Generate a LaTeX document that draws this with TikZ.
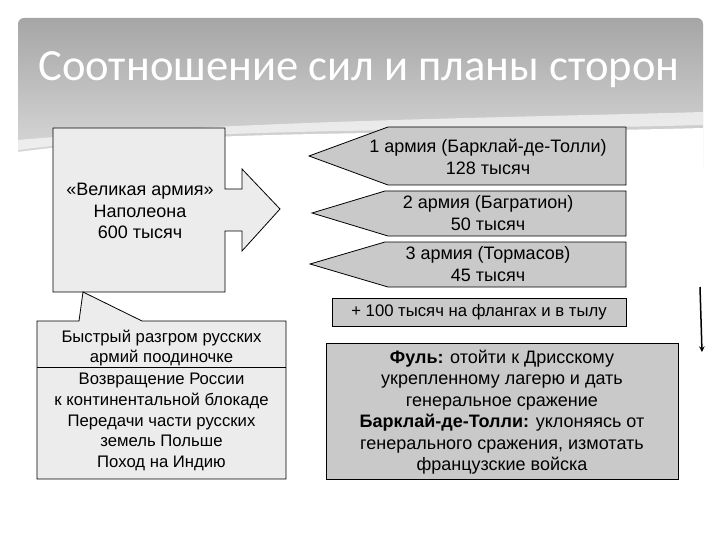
\documentclass[tikz,border=0pt]{standalone}
\usepackage{fontspec}
\setmainfont{Liberation Sans}
\newfontfamily\titlefont{Carlito}
\usepackage{xcolor}
\usepackage{tikz}
\usetikzlibrary{shapes,arrows}

\tikzset{
  lightbox/.style={draw=black, fill=gray!15, line width=0.8pt},
  darkbox/.style={draw=black, fill=gray!42, line width=0.8pt},
  txt/.style={align=center, inner sep=0pt, font=\fontsize{18}{21.5}\selectfont},
  smalltxt/.style={txt, font=\fontsize{16.7}{20.9}\selectfont},
}

\begin{document}
\begin{tikzpicture}[x=1pt,y=-1pt]
\useasboundingbox (0,0) rectangle (720,540);
\fill[white] (0,0) rectangle (720,540);
% banner
\shade[top color=gray!70, bottom color=gray!25, rounded corners=6pt]
  (18,175) -- (18,18) -- (703,18) -- (703,175) -- cycle;
\fill[white] (18,176) -- (18,152) .. controls (200,128) and (450,135) .. (703,128) -- (703,176) -- cycle;
\fill[white, opacity=0.6] (18,176) -- (18,140) .. controls (250,120) and (500,118) .. (703,112) -- (703,125) .. controls (450,132) and (200,126) .. (18,150) -- cycle;
\node[text=white, font=\titlefont\fontsize{44.6}{49}\selectfont] (title) at (359,70) {Соотношение сил и планы сторон};
%
% Napoleon
\draw[lightbox] (53,128) -- (225,128) -- (225,189) -- (242,189) -- (242,169) -- (280,209)
  -- (242,251) -- (242,231) -- (225,231) -- (225,292) -- (53,292) -- cycle;
\node[txt] (napoleon) at (140,211) {«Великая армия»\\Наполеона\\600 тысяч};
%
% plans of Napoleon
\draw[lightbox] (37,321) -- (79,321) -- (83,292) -- (142,321) -- (286,321) -- (286,479) -- (37,479) -- cycle;
\draw[line width=0.8pt] (37,367) -- (286,367);
\node[smalltxt] (blitz) at (161.5,348) {Быстрый разгром русских\\армий поодиночке};
\node[smalltxt] (goals) at (161.5,422) {Возвращение России\\к континентальной блокаде\\Передачи части русских\\земель Польше\\Поход на Индию};
%
% Russian armies
\draw[darkbox] (309,156) -- (388,127) -- (626,127) -- (626,185) -- (388,185) -- cycle;
\draw[darkbox] (312,213) -- (385,191) -- (626,191) -- (626,236) -- (388,236) -- cycle;
\draw[darkbox] (310,264) -- (385,242) -- (626,242) -- (626,287) -- (388,287) -- cycle;
\node[txt] (army1) at (488,157) {1 армия (Барклай-де-Толли)\\128 тысяч};
\node[txt] (army2) at (488,213) {2 армия (Багратион)\\50 тысяч};
\node[txt] (army3) at (488,264) {3 армия (Тормасов)\\45 тысяч};
%
\draw[darkbox] (332,298) rectangle (626,326);
\node[smalltxt] (reserve) at (479,312) {+ 100 тысяч на флангах и в тылу};
%
% plans of Russia
\draw[darkbox] (326,343) rectangle (678,479);
\node[txt] (plans) at (502,412) {\textbf{Фуль:} отойти к Дрисскому\\укрепленному лагерю и дать\\генеральное сражение\\\textbf{Барклай-де-Толли:} уклоняясь от\\генерального сражения, измотать\\французские войска};
%
\draw[line width=1.5pt, -stealth] (700,287) -- (702,352); % new
\end{tikzpicture}
\end{document}
